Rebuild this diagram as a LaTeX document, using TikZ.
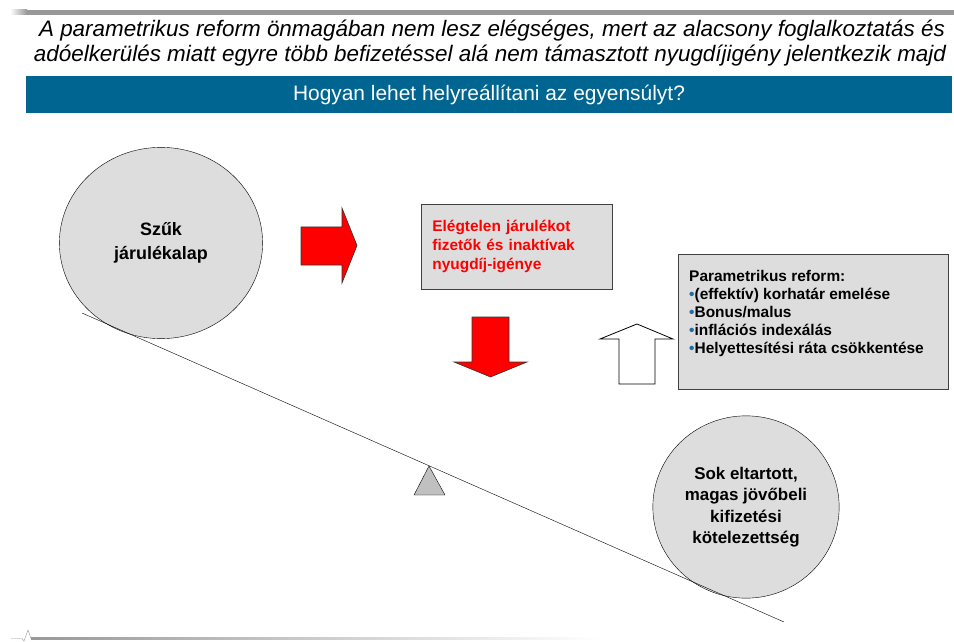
\documentclass[tikz,border=0pt]{standalone}
\usepackage{fontspec}
\setmainfont{Liberation Sans}
\usetikzlibrary{shapes.geometric,positioning}
\definecolor{barblue}{RGB}{0,101,145}
\definecolor{boxgray}{RGB}{221,221,221}
\definecolor{fulcrumgray}{RGB}{192,192,192}
\definecolor{bulletblue}{RGB}{31,110,160}
\definecolor{linegray}{RGB}{152,152,152}
\tikzset{headline/.style = {anchor=base, inner sep=0pt, font=\fontsize{22.5}{26}\selectfont\itshape}}
\tikzset{banner/.style = {fill=barblue, text=white, inner sep=0pt, font=\fontsize{21}{25}\selectfont}}
\tikzset{weight/.style = {draw, ellipse, thin, fill=boxgray, align=center, inner sep=0pt}}
\tikzset{infobox/.style = {draw=black!75, thick, fill=boxgray, inner sep=0pt}}
\tikzset{listtext/.style = {inner sep=0pt, align=left, font=\fontsize{15.5}{18}\selectfont\bfseries}}
\tikzset{redarrow/.style = {draw=black!80, fill=red, line width=0.6pt}}
\tikzset{whitearrow/.style = {draw=black, fill=white, line width=0.8pt}}
\newcommand{\bul}{{\color{bulletblue}\textbullet}}

\begin{document}
\begin{tikzpicture}[x=1bp, y=-1bp]
  \useasboundingbox (0,0) rectangle (954,642);

  % header
  \shade[left color=white, right color=linegray] (10,10) rectangle (27,15);
  \fill[linegray] (27,10) rectangle (954,15);
  \node[headline] (title1) at (492,37) {A parametrikus reform önmagában nem lesz elégséges, mert az alacsony foglalkoztatás és};
  \node[headline] (title2) at (490,62) {adóelkerülés miatt egyre több befizetéssel alá nem támasztott nyugdíjigény jelentkezik majd};
  \node[banner, minimum width=930, minimum height=37] (question) at (489,94.5) {Hogyan lehet helyreállítani az egyensúlyt?};

  % the two weights
  \node[weight, minimum width=204, minimum height=192, font=\fontsize{18}{24}\selectfont\bfseries] (szuk) at (161,243) {Szűk\\járulékalap};
  \node[weight, minimum width=187, minimum height=183, font=\fontsize{17}{21.5}\selectfont\bfseries] (sok) at (746,507) {Sok eltartott,\\magas jövőbeli\\kifizetési\\kötelezettség};

  % lever and fulcrum
  \coordinate (leverleft) at (82,313);
  \coordinate (leverright) at (784,622);
  \draw[thin] (leverleft) -- (leverright);
  \draw[thin, fill=fulcrumgray] (429,466) -- (445,495) -- (414,495) -- cycle;

  % boxes
  \node[infobox, minimum width=192, minimum height=85, text width=170, align=left, text=red,
        font=\fontsize{15.5}{19}\selectfont\bfseries, anchor=north west] (elegtelen) at (421,204)
        {Elégtelen járulékot fizetők és inaktívak nyugdíj-igénye};
  \node[infobox, minimum width=271, minimum height=136, anchor=north west] (reform) at (678,254) {};
  \node[listtext, below right=16bp and 11bp of reform.north west] (reformtext)
        {Parametrikus reform:\\ \bul(effektív) korhatár emelése\\ \bul Bonus/malus\\ \bul inflációs indexálás\\ \bul Helyettesítési ráta csökkentése};

  % block arrows
  \draw[redarrow] (301,227) -- (342,227) -- (342,208) -- (357,245.5) -- (342,283) -- (342,265) -- (301,265) -- cycle;
  \draw[redarrow] (472,317) -- (509,317) -- (509,362) -- (527,362) -- (490.5,377) -- (454,362) -- (472,362) -- cycle;
  \draw[whitearrow] (619,384) -- (655,384) -- (655,339) -- (673,339) -- (637,324) -- (600,339) -- (619,339) -- cycle;

  % footer
  \draw[linegray, thin] (11,638.5) -- (22,638.5) -- (24,641) -- (28,630) -- (31,638.5);
  \shade[left color=linegray, right color=white] (31,637.5) rectangle (600,639.5);
\end{tikzpicture}
\end{document}
